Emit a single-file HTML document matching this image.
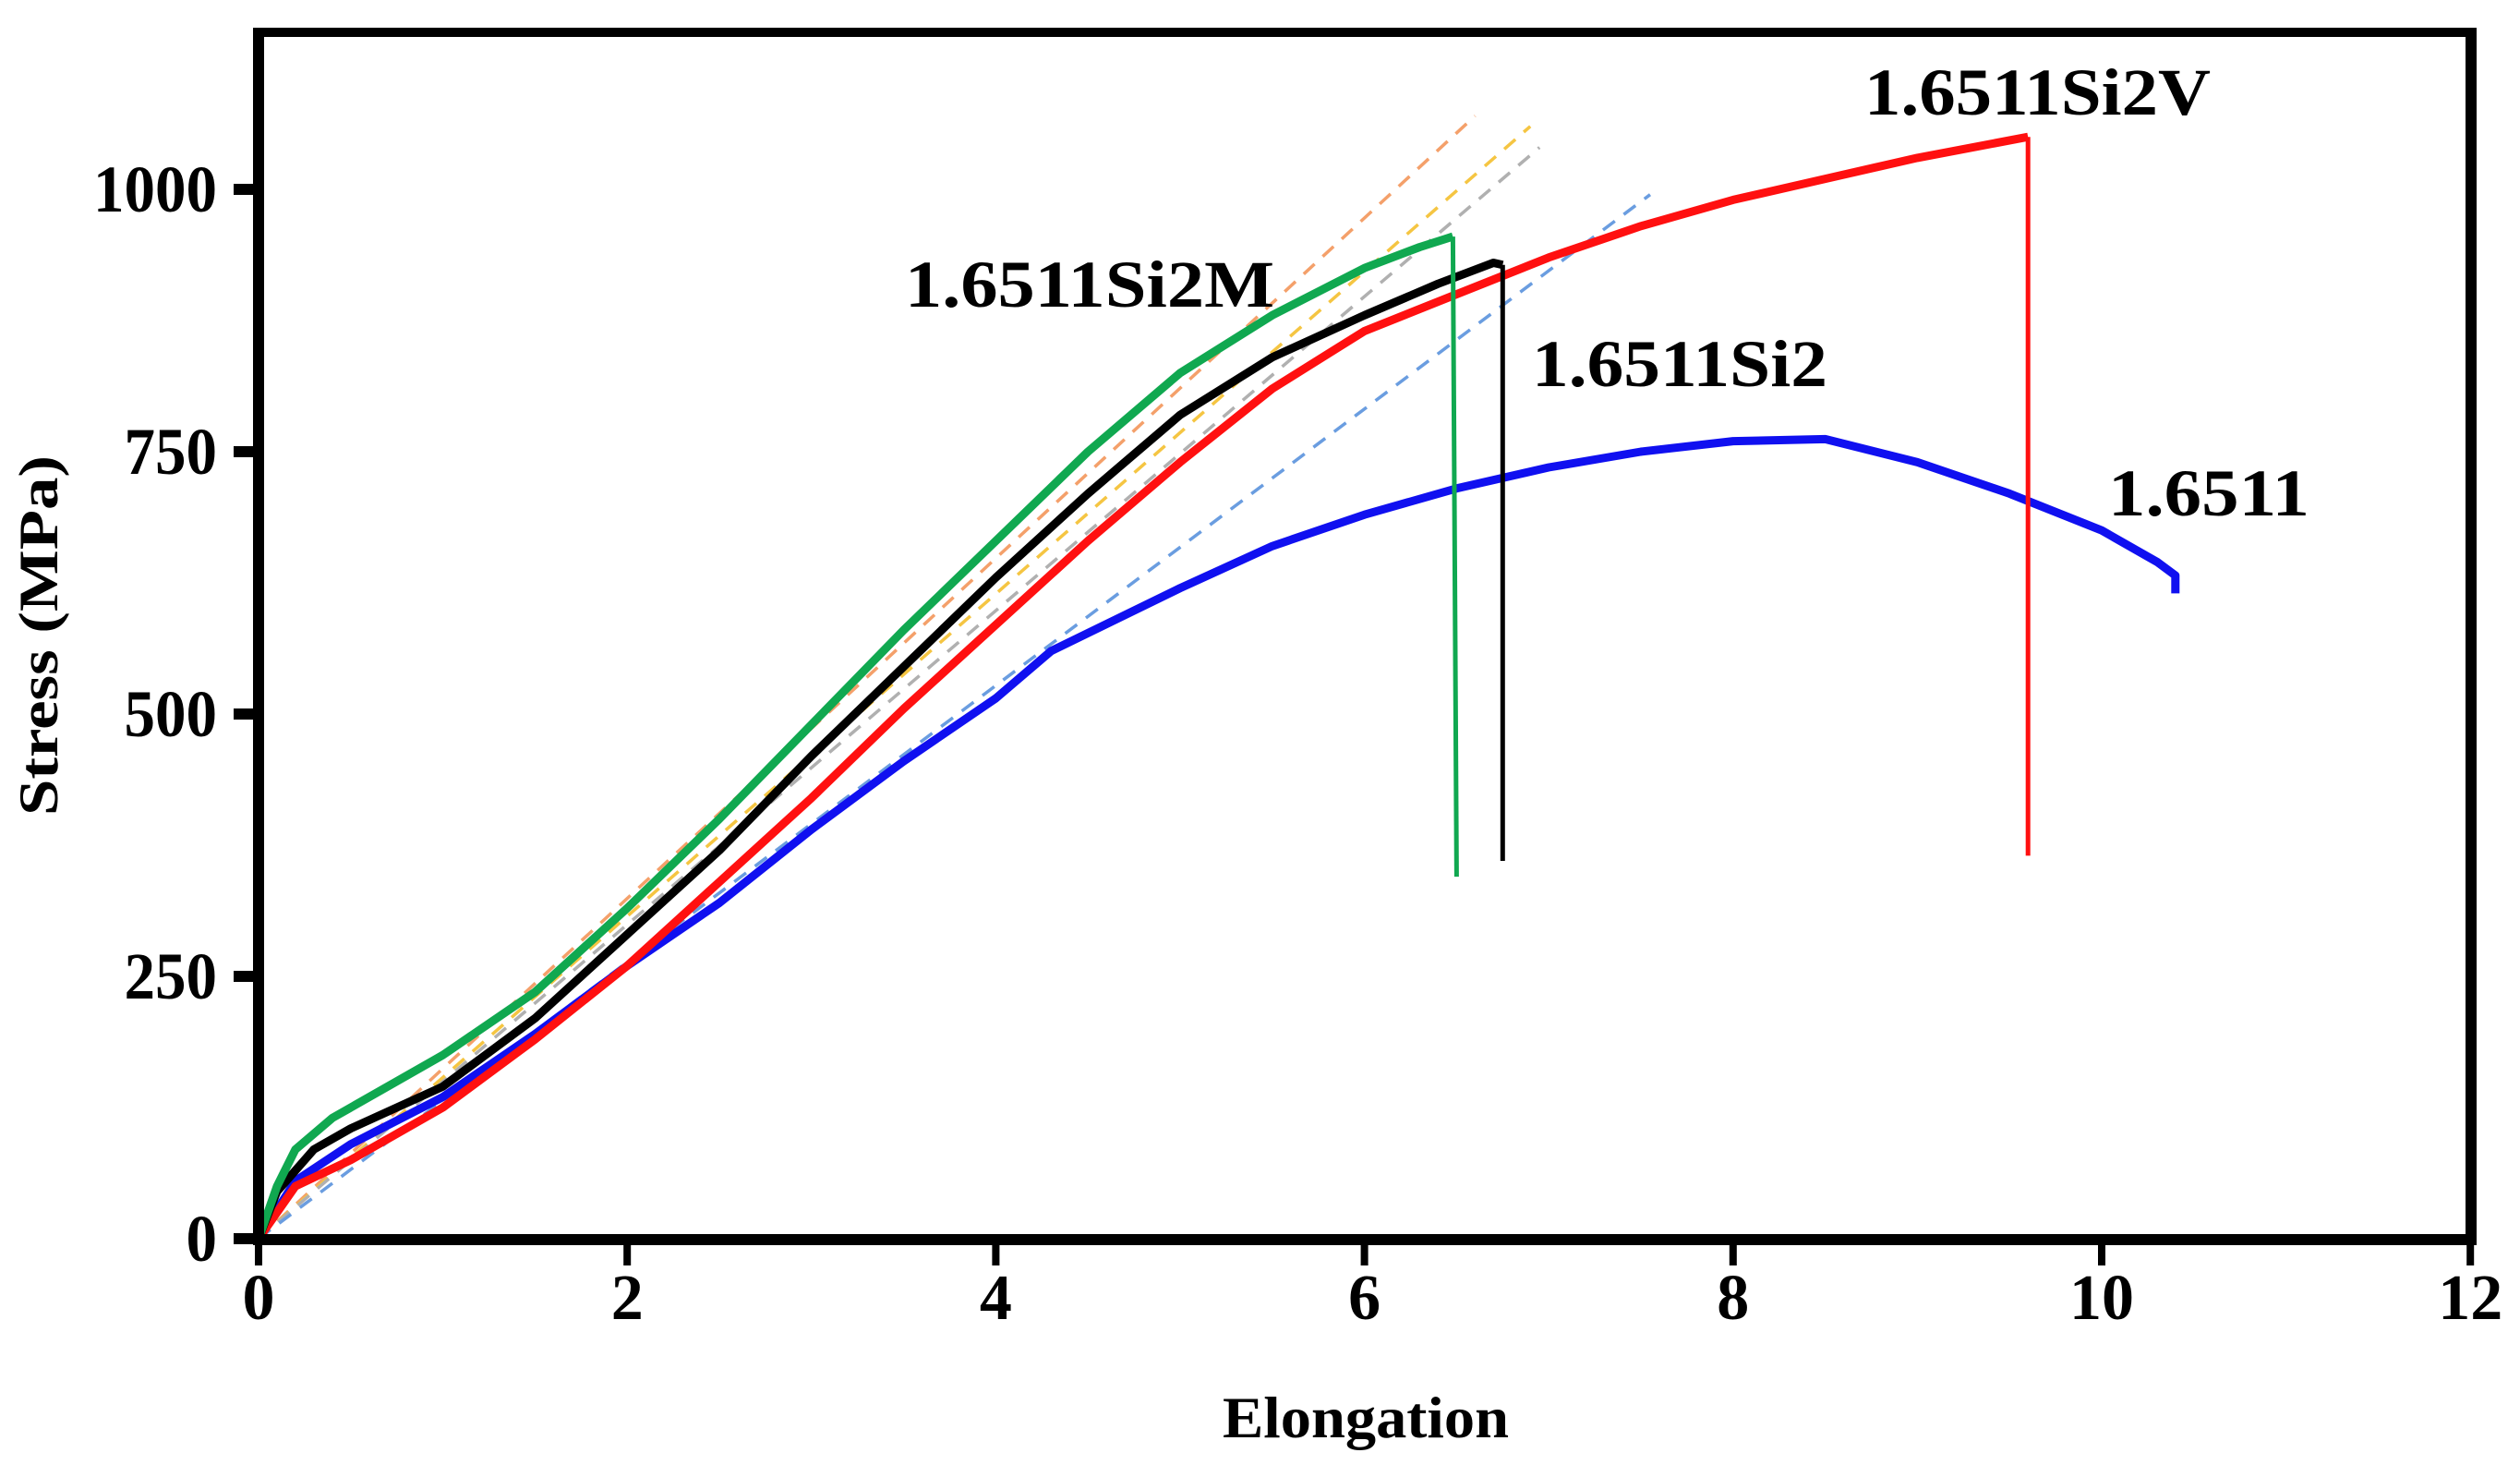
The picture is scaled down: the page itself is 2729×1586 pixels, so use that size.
<!DOCTYPE html>
<html><head><meta charset="utf-8"><style>
html,body{margin:0;padding:0;background:#fff;}
svg{display:block;}
text{font-family:"Liberation Serif",serif;font-weight:bold;fill:#000;}
</style></head><body>
<svg id="chart" width="2729" height="1586" viewBox="0 0 2729 1586" xmlns="http://www.w3.org/2000/svg">
<g id="plot"></g>
<g id="axes"></g>
<text x="1479" y="1556" font-size="64" text-anchor="middle" textLength="310" lengthAdjust="spacingAndGlyphs">Elongation</text>
<text transform="translate(62,688) rotate(-90)" font-size="60" text-anchor="middle" textLength="390" lengthAdjust="spacingAndGlyphs">Stress (MPa)</text>
<text x="2019" y="124" font-size="72" textLength="375" lengthAdjust="spacingAndGlyphs">1.6511Si2V</text>
<text x="980" y="332" font-size="72" textLength="400" lengthAdjust="spacingAndGlyphs">1.6511Si2M</text>
<text x="1659" y="418" font-size="72" textLength="320" lengthAdjust="spacingAndGlyphs">1.6511Si2</text>
<text x="2283" y="558" font-size="72" textLength="218" lengthAdjust="spacingAndGlyphs">1.6511</text>
</svg>
<script>
const xTicks=[0,2,4,6,8,10,12];
const yTicks=[0,250,500,750,1000];
const green=[[0,0],[0.1,50],[0.2,85],[0.4,115],[0.7,145],[1,175],[1.5,235],[2,315],[2.5,400],[3,490],[3.5,580],[4,665],[4.5,750],[5,825],[5.5,880],[6,925],[6.3,945],[6.48,955]];
const greenDrop=[[6.48,955],[6.5,345]];
const black=[[0,0],[0.1,45],[0.3,85],[0.5,105],[1,145],[1.5,210],[2,290],[2.5,370],[3,460],[3.5,545],[4,630],[4.5,710],[5,785],[5.5,840],[6,880],[6.4,910],[6.7,930],[6.75,928]];
const blackDrop=[[6.75,928],[6.75,360]];
const red=[[0,0],[0.2,50],[0.5,75],[1,125],[1.5,190],[2,260],[2.5,340],[3,420],[3.5,505],[4,585],[4.5,665],[5,740],[5.5,810],[6,865],[6.5,900],[7,935],[7.5,965],[8,990],[8.5,1010],[9,1030],[9.6,1050]];
const redDrop=[[9.6,1050],[9.6,365]];
const blue=[[0,0],[0.2,55],[0.5,90],[1,135],[1.5,195],[2,260],[2.5,320],[3,390],[3.5,455],[4,515],[4.3,560],[5,620],[5.5,660],[6,690],[6.5,715],[7,735],[7.5,750],[8,760],[8.5,762],[9,740],[9.5,710],[10,675],[10.3,645],[10.4,632],[10.4,615]];
const dashOrange=[[0,0],[6.6,1070]];
const dashYellow=[[0,0],[6.9,1060]];
const dashGray=[[0,0],[6.95,1040]];
const dashBlue=[[0,0],[7.55,995]];

const X0=280,XK=199.6,Y0=1341,YK=1.136;
const sx=v=>X0+v*XK, sy=v=>Y0-v*YK;
const NS="http://www.w3.org/2000/svg";
const plot=document.getElementById('plot'), axes=document.getElementById('axes');
function line(pts,color,w,dash,name){
  const p=document.createElementNS(NS,'polyline');
  p.setAttribute('points',pts.map(d=>sx(d[0]).toFixed(1)+','+sy(d[1]).toFixed(1)).join(' '));
  p.setAttribute('fill','none');p.setAttribute('stroke',color);p.setAttribute('stroke-width',w);
  p.setAttribute('stroke-linejoin','round');
  if(dash)p.setAttribute('stroke-dasharray',dash);
  
  
  plot.appendChild(p);
}
line(dashOrange,'#f4a06a',3.5,'16,12','fit-line-orange');
line(dashYellow,'#f5c542',3.5,'16,12','fit-line-yellow');
line(dashGray,'#b0b0b0',3.5,'16,12','fit-line-gray');
line(dashBlue,'#6a9de0',3.5,'16,12','fit-line-blue');
line(blue,'#1010f0',9,null,'series-1-6511');
line(red,'#ff1010',9,null,'series-1-6511si2v');
line(redDrop,'#ff1010',5,null,'series-1-6511si2v-fracture');
line(black,'#000',9,null,'series-1-6511si2');
line(blackDrop,'#000',5,null,'series-1-6511si2-fracture');
line(green,'#10a850',9,null,'series-1-6511si2m');
line(greenDrop,'#10a850',5,null,'series-1-6511si2m-fracture');

function rect(x,y,w,h,name){
  const r=document.createElementNS(NS,'rect');
  r.setAttribute('x',x);r.setAttribute('y',y);r.setAttribute('width',w);r.setAttribute('height',h);r.setAttribute('fill','#000');
  
  
  axes.appendChild(r);
}
rect(274,30,12,1318,'y-axis-line');
rect(274,1336,2408,12,'x-axis-line');
rect(274,30,2408,10,'frame-top');
rect(2670,30,12,1318,'frame-right');
xTicks.forEach(v=>{
  rect(sx(v)-4,1342,8,28,'x-tick');
  const t=document.createElementNS(NS,'text');
  t.setAttribute('x',sx(v));t.setAttribute('y',1428);t.setAttribute('font-size','70');t.setAttribute('text-anchor','middle');
  t.textContent=v;
  
  
  axes.appendChild(t);
});
yTicks.forEach(v=>{
  rect(253,sy(v)-6,24,12,'y-tick');
  const t=document.createElementNS(NS,'text');
  t.setAttribute('x',235);t.setAttribute('y',sy(v)+24);t.setAttribute('font-size','72');t.setAttribute('text-anchor','end');
  t.setAttribute('textLength',String(v).length*33.5);t.setAttribute('lengthAdjust','spacingAndGlyphs');
  t.textContent=v;
  
  
  axes.appendChild(t);
});
</script>
</body></html>
